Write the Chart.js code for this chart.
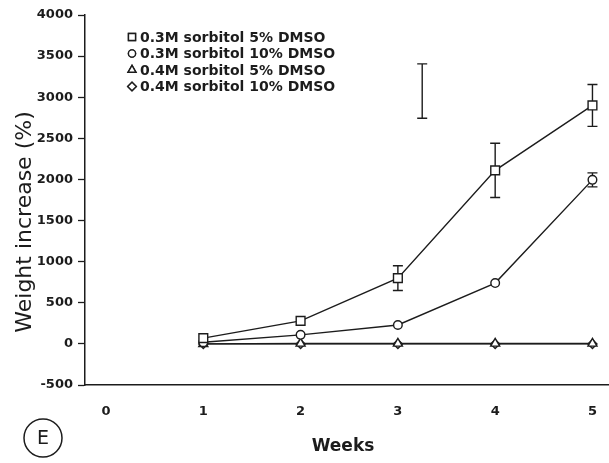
<!DOCTYPE html>
<html>
<head>
<meta charset="utf-8">
<script src="https://cdn.jsdelivr.net/npm/chart.js@4.4.1/dist/chart.umd.min.js"></script>
<style>
  html, body { margin: 0; padding: 0; background: #ffffff; }
  #wrap { width: 609px; height: 463px; }
</style>
</head>
<body>
<div id="wrap"><canvas id="c" width="609" height="463"></canvas></div>
<script>
// Weight increase (%) of cultures over five weeks
const weeks = [1, 2, 3, 4, 5];
const seriesLabels = [
  '0.3M sorbitol 5% DMSO',
  '0.3M sorbitol 10% DMSO',
  '0.4M sorbitol 5% DMSO',
  '0.4M sorbitol 10% DMSO'
];
const sorb03Dmso5 = [70, 280, 800, 2110, 2900];
const sorb03Dmso5Err = [0, 0, 150, 330, 255];
const sorb03Dmso10 = [20, 110, 230, 740, 1995];
const sorb03Dmso10Err = [0, 0, 0, 0, 85];
const sorb04Dmso5 = [0, 5, 5, 5, 5];
const sorb04Dmso10 = [0, 0, 0, 0, 0];
const xTickValues = [0, 1, 2, 3, 4, 5];
const yTickValues = [-500, 0, 500, 1000, 1500, 2000, 2500, 3000, 3500, 4000];
// pooled standard error bar drawn on its own
const pooledBarWeek = 3.25;
const pooledBarLow = 2745;
const pooledBarHigh = 3405;

const INK = '#1c1c1c';
const markerStyles = ['rect', 'circle', 'triangle', 'rectRot'];
const markerRadius = [6.2, 4.3, 5.2, 4.5];
const legendRadius = [5, 3.6, 4.6, 4.3];
const seriesData = [sorb03Dmso5, sorb03Dmso10, sorb04Dmso5, sorb04Dmso10];
const seriesErr = [sorb03Dmso5Err, sorb03Dmso10Err, null, null];

const datasets = seriesData.map((vals, i) => ({
  label: seriesLabels[i],
  data: weeks.map((w, j) => ({ x: w, y: vals[j] })),
  borderColor: INK,
  borderWidth: 1.4,
  backgroundColor: '#ffffff',
  pointStyle: markerStyles[i],
  pointRadius: markerRadius[i],
  pointBorderWidth: 1.4,
  pointBorderColor: INK,
  pointBackgroundColor: '#ffffff',
  tension: 0,
  fill: false,
  order: i
}));

function drawBar(ctx, xs, ys, xv, lo, hi, cap) {
  const x = xs.getPixelForValue(xv);
  const y1 = ys.getPixelForValue(lo);
  const y2 = ys.getPixelForValue(hi);
  ctx.beginPath();
  ctx.moveTo(x, y1); ctx.lineTo(x, y2);
  ctx.moveTo(x - cap, y1); ctx.lineTo(x + cap, y1);
  ctx.moveTo(x - cap, y2); ctx.lineTo(x + cap, y2);
  ctx.stroke();
}

const errorBars = {
  id: 'errorBars',
  beforeDatasetsDraw(chart) {
    const ctx = chart.ctx, xs = chart.scales.x, ys = chart.scales.y;
    ctx.save();
    ctx.strokeStyle = INK;
    ctx.lineWidth = 1.4;
    seriesErr.forEach((errs, i) => {
      if (!errs) return;
      weeks.forEach((w, j) => {
        if (errs[j] > 0) {
          drawBar(ctx, xs, ys, w, seriesData[i][j] - errs[j], seriesData[i][j] + errs[j], 5);
        }
      });
    });
    drawBar(ctx, xs, ys, pooledBarWeek, pooledBarLow, pooledBarHigh, 5);
    ctx.restore();
  }
};

const decorations = {
  id: 'decorations',
  afterDraw(chart) {
    const ctx = chart.ctx;
    ctx.save();
    ctx.fillStyle = INK;
    ctx.strokeStyle = INK;

    // legend
    const rowY = [37, 53.5, 70, 86.5];
    seriesLabels.forEach((lab, i) => {
      ctx.lineWidth = 1.4;
      ctx.fillStyle = '#ffffff';
      Chart.helpers.drawPoint(ctx, {
        pointStyle: markerStyles[i], radius: legendRadius[i],
        borderWidth: 1.4, rotation: 0
      }, 132, rowY[i]);
      ctx.fill();
      ctx.stroke();
      ctx.fillStyle = INK;
      ctx.font = 'bold 14px "DejaVu Sans"';
      ctx.textAlign = 'left';
      ctx.textBaseline = 'middle';
      ctx.fillText(lab, 140, rowY[i] + 1);
    });

    // axis titles
    ctx.font = '22px "DejaVu Sans"';
    ctx.textAlign = 'center';
    ctx.textBaseline = 'middle';
    ctx.save();
    ctx.translate(25, 222);
    ctx.rotate(-Math.PI / 2);
    ctx.fillText('Weight increase (%)', 0, 0);
    ctx.restore();

    ctx.font = 'bold 17px "DejaVu Sans"';
    ctx.fillText('Weeks', 343, 447);

    // panel letter
    ctx.lineWidth = 1.5;
    ctx.beginPath();
    ctx.arc(43, 438, 19, 0, Math.PI * 2);
    ctx.stroke();
    ctx.font = '19px "DejaVu Sans"';
    ctx.fillText('E', 43, 439);
    ctx.restore();
  }
};

new Chart(document.getElementById('c'), {
  type: 'line',
  data: { datasets },
  plugins: [errorBars, decorations],
  options: {
    responsive: false,
    animation: false,
    layout: { autoPadding: false, padding: { top: 15, left: 0, right: 0, bottom: 0 } },
    plugins: { legend: { display: false }, tooltip: { enabled: false } },
    scales: {
      x: {
        type: 'linear',
        min: -0.216,
        max: 5.17,
        afterBuildTicks: (s) => { s.ticks = xTickValues.map(v => ({ value: v })); },
        afterFit: (s) => { s.height = 78; },
        // invisible tick marks only space the labels below the axis
        grid: { display: true, drawOnChartArea: false, drawTicks: true, tickLength: 19, tickColor: 'rgba(0,0,0,0)', color: 'rgba(0,0,0,0)' },
        border: { display: true, color: INK, width: 1.5 },
        ticks: {
          padding: 0,
          color: INK,
          font: { family: '"DejaVu Sans"', size: 13, weight: 'bold' },
          maxRotation: 0,
          callback: (v) => String(v)
        }
      },
      y: {
        type: 'linear',
        min: -500,
        max: 4000,
        afterBuildTicks: (s) => { s.ticks = yTickValues.map(v => ({ value: v })); },
        afterFit: (s) => { s.width = 85; },
        grid: { display: true, drawOnChartArea: false, drawTicks: true, tickLength: 7, tickWidth: 1.3, tickColor: INK, color: INK },
        border: { display: true, color: INK, width: 1.5 },
        ticks: {
          padding: 5,
          color: INK,
          font: { family: '"DejaVu Sans"', size: 13, weight: 'bold' },
          callback: (v) => String(v)
        }
      }
    }
  }
});
</script>
</body>
</html>
